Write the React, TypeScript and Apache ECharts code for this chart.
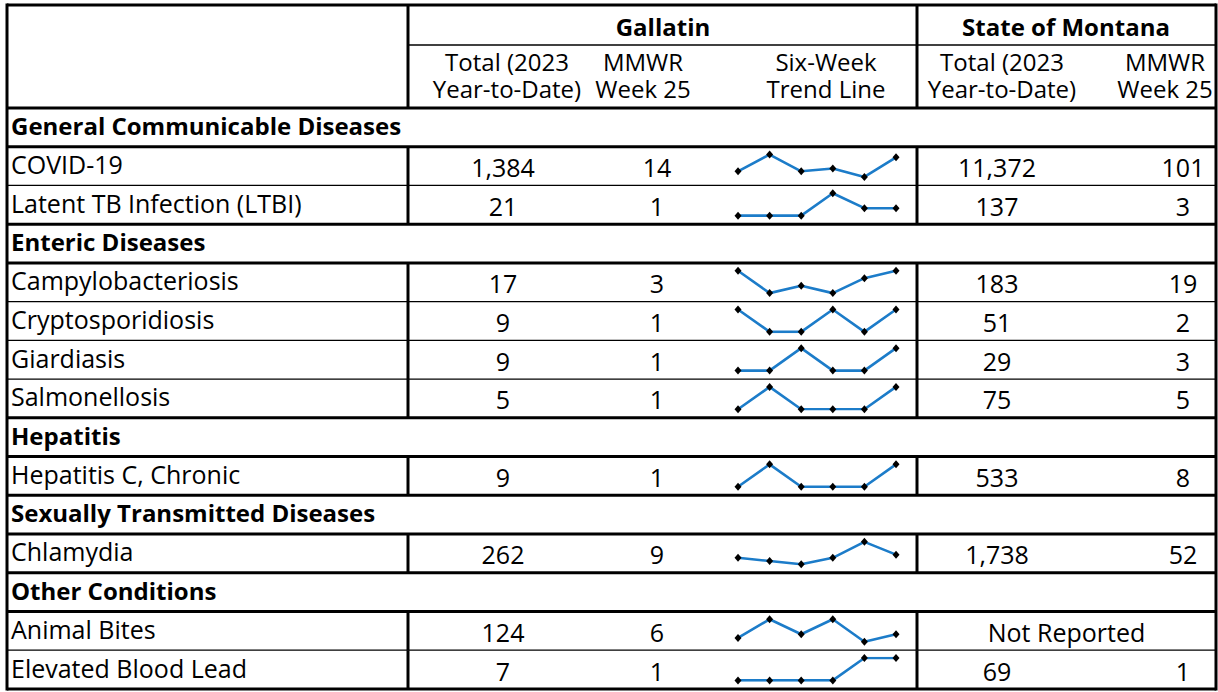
import React, { useEffect, useRef } from "react";
import * as echarts from "echarts";

// ---------- data ----------
const sectionNames = [
  "General Communicable Diseases",
  "Enteric Diseases",
  "Hepatitis",
  "Sexually Transmitted Diseases",
  "Other Conditions",
];
const conditionNames = [
  "COVID-19",
  "Latent TB Infection (LTBI)",
  "Campylobacteriosis",
  "Cryptosporidiosis",
  "Giardiasis",
  "Salmonellosis",
  "Hepatitis C, Chronic",
  "Chlamydia",
  "Animal Bites",
  "Elevated Blood Lead",
];
const conditionSection = [0, 0, 1, 1, 1, 1, 2, 3, 4, 4];
const gallatinYTD = [1384, 21, 17, 9, 9, 5, 9, 262, 124, 7];
const gallatinWeek25 = [14, 1, 3, 1, 1, 1, 1, 9, 6, 1];
const montanaYTD: (number | null)[] = [11372, 137, 183, 51, 29, 75, 533, 1738, null, 69];
const montanaWeek25: (number | null)[] = [101, 3, 19, 2, 3, 5, 8, 52, null, 1];
const notReportedLabel = "Not Reported";

const weeks = ["Week 20", "Week 21", "Week 22", "Week 23", "Week 24", "Week 25"];
const trendCovid = [9, 15, 9, 10, 7, 14];
const trendLtbi = [0, 0, 0, 3, 1, 1];
const trendCampylobacteriosis = [3, 0, 1, 0, 2, 3];
const trendCryptosporidiosis = [1, 0, 0, 1, 0, 1];
const trendGiardiasis = [0, 0, 1, 0, 0, 1];
const trendSalmonellosis = [0, 1, 0, 0, 0, 1];
const trendHepatitisC = [0, 1, 0, 0, 0, 1];
const trendChlamydia = [8, 7, 6, 8, 13, 9];
const trendAnimalBites = [5, 10, 6, 10, 4, 6];
const trendBloodLead = [0, 0, 0, 0, 1, 1];
const trends = [
  trendCovid,
  trendLtbi,
  trendCampylobacteriosis,
  trendCryptosporidiosis,
  trendGiardiasis,
  trendSalmonellosis,
  trendHepatitisC,
  trendChlamydia,
  trendAnimalBites,
  trendBloodLead,
];

const groupHeaders = ["Gallatin", "State of Montana"];
const subHeaders = [
  ["Total (2023", "Year-to-Date)"],
  ["MMWR", "Week 25"],
  ["Six-Week", "Trend Line"],
  ["Total (2023", "Year-to-Date)"],
  ["MMWR", "Week 25"],
];

// ---------- layout ----------
const L = 7;
const R = 1216;
const T = 5;
const H1 = 45;
const H2 = 108;
const ROWH = 38.73;
const C1 = 408;
const C2 = 917;
const THICK = 3;
const THIN = 1.3;
const FONT = "'Open Sans'";
const LABEL_SIZE = 25;
const SECTION_SIZE = 24;
const NUM_SIZE = 25;
const HEAD_SIZE = 24;
const groupCenters = [663, 1066];
const subCenters = [507, 643, 826, 1002, 1165];
const valueCenters = [503, 657, 997, 1183];
const sparkLeft = 738;
const sparkWidth = 158;

const fmt = (v: number) => v.toLocaleString("en-US");

export default function App() {
  const ref = useRef<HTMLDivElement>(null);
  useEffect(() => {
    if (!ref.current) return;
    const chart = echarts.init(ref.current, undefined, { renderer: "svg" });

    type Row = { kind: "section"; label: string } | { kind: "cond"; idx: number };
    const rows: Row[] = [];
    sectionNames.forEach((s, si) => {
      rows.push({ kind: "section", label: s });
      conditionNames.forEach((_, ci) => {
        if (conditionSection[ci] === si) rows.push({ kind: "cond", idx: ci });
      });
    });
    const rowTop = (i: number) => H2 + ROWH * i;

    const g: any[] = [];
    const line = (x1: number, y1: number, x2: number, y2: number, w: number) =>
      g.push({
        type: "line",
        z: 10,
        shape: { x1, y1, x2, y2 },
        style: { stroke: "#000", lineWidth: w },
      });
    const text = (
      str: string,
      x: number,
      y: number,
      size: number,
      align: string,
      bold = false,
      lineHeight = 30
    ) =>
      g.push({
        type: "text",
        x,
        y,
        z: 5,
        style: {
          text: str,
          fill: "#000",
          fontFamily: FONT,
          fontSize: size,
          lineHeight,
          fontWeight: bold ? "bold" : "normal",
          align,
          verticalAlign: "middle",
          textAlign: align,
          textVerticalAlign: "middle",
        },
      });

    // header
    groupHeaders.forEach((h, i) => text(h, groupCenters[i], 26, HEAD_SIZE, "center", true));
    subHeaders.forEach((pair, i) => {
      text(pair.join("\n"), subCenters[i], 74.5, HEAD_SIZE, "center", false, 27);
    });

    // rows
    rows.forEach((r, i) => {
      const yc = rowTop(i) + ROWH / 2;
      if (r.kind === "section") {
        text(r.label, 11, yc - 2, SECTION_SIZE, "left", true);
      } else {
        const k = r.idx;
        text(conditionNames[k], 11, yc - 2, LABEL_SIZE, "left");
        text(fmt(gallatinYTD[k]), valueCenters[0], yc + 1, NUM_SIZE, "center");
        text(fmt(gallatinWeek25[k]), valueCenters[1], yc + 1, NUM_SIZE, "center");
        const my = montanaYTD[k];
        const mw = montanaWeek25[k];
        if (my == null || mw == null) {
          text(notReportedLabel, (C2 + R) / 2, yc + 1, NUM_SIZE, "center");
        } else {
          text(fmt(my), valueCenters[2], yc + 1, NUM_SIZE, "center");
          text(fmt(mw), valueCenters[3], yc + 1, NUM_SIZE, "center");
        }
        line(C1, rowTop(i), C1, rowTop(i + 1), THICK);
        line(C2, rowTop(i), C2, rowTop(i + 1), THICK);
      }
    });

    // grid lines
    line(L, T, R, T, THICK);
    line(L, T - THICK / 2, L, rowTop(rows.length) + THICK / 2, THICK);
    line(R, T - THICK / 2, R, rowTop(rows.length) + THICK / 2, THICK);
    line(C1, T, C1, H2, THICK);
    line(C2, T, C2, H2, THICK);
    line(C1, H1, R, H1, THIN);
    for (let b = 0; b <= rows.length; b++) {
      const above = rows[b - 1];
      const below = rows[b];
      const thick =
        !above || !below || above.kind === "section" || below.kind === "section";
      line(L, rowTop(b), R, rowTop(b), thick ? THICK : THIN);
    }

    // sparklines
    const grids: any[] = [];
    const xAxes: any[] = [];
    const yAxes: any[] = [];
    const series: any[] = [];
    let gi = 0;
    rows.forEach((r, i) => {
      if (r.kind !== "cond") return;
      grids.push({
        left: sparkLeft,
        width: sparkWidth,
        top: rowTop(i) + 7.8,
        height: 22.4,
        containLabel: false,
      });
      xAxes.push({
        type: "category",
        gridIndex: gi,
        data: weeks,
        boundaryGap: false,
        show: false,
      });
      yAxes.push({
        type: "value",
        gridIndex: gi,
        show: false,
        scale: true,
        min: "dataMin",
        max: "dataMax",
        splitLine: { show: false },
      });
      series.push({
        type: "line",
        name: conditionNames[r.idx],
        xAxisIndex: gi,
        yAxisIndex: gi,
        data: trends[r.idx],
        symbol: "diamond",
        symbolSize: [7, 8],
        showAllSymbol: true,
        lineStyle: { color: "#1c7cc9", width: 2.6 },
        itemStyle: { color: "#000" },
        z: 3,
      });
      gi++;
    });

    chart.setOption({
      animation: false,
      backgroundColor: "#fff",
      grid: grids,
      xAxis: xAxes,
      yAxis: yAxes,
      series,
      graphic: g,
    });
    return () => chart.dispose();
  }, []);
  return (
    <div
      ref={ref}
      style={{ position: "absolute", left: 0, top: 0, width: 1218, height: 692 }}
    />
  );
}
